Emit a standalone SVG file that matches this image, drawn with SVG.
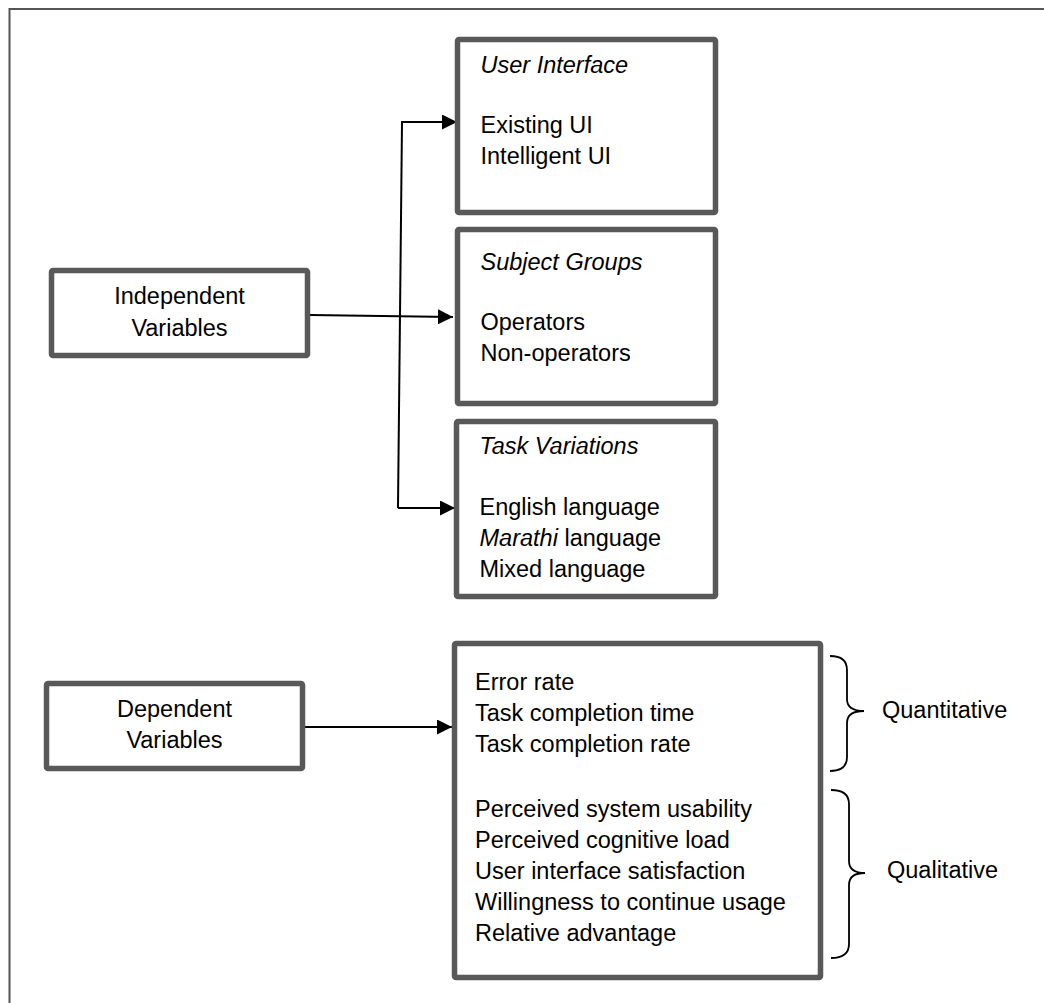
<svg xmlns="http://www.w3.org/2000/svg" width="1044" height="1003" viewBox="0 0 1044 1003">
  <defs>
    <style>
      .box { fill: #ffffff; stroke: #595959; stroke-width: 5.5; }
      .frame { fill: none; stroke: #555555; stroke-width: 2; }
      .wire { fill: none; stroke: #000000; stroke-width: 2; }
      .brace { fill: none; stroke: #000000; stroke-width: 1.8; }
      text { font-family: "Liberation Sans", Arial, sans-serif; font-size: 23.5px; fill: #000000; }
      .mid { text-anchor: middle; }
      .it { font-style: italic; }
    </style>
    <marker id="arrow" markerWidth="15" markerHeight="15" refX="15" refY="7.5" orient="auto" markerUnits="userSpaceOnUse">
      <path d="M0,0 L15,7.5 L0,15 Z" fill="#000000"/>
    </marker>
  </defs>

  <rect width="1044" height="1003" fill="#ffffff"/>

  <!-- page frame: top and left rules -->
  <path class="frame" d="M9.5,1003 L9.5,9 L1044,9"/>

  <!-- connectors -->
  <g id="connectors">
    <path class="wire" d="M402,122 L398,508"/>
    <path class="wire" d="M401,122 L457,122" marker-end="url(#arrow)"/>
    <path class="wire" d="M398,508 L455,508" marker-end="url(#arrow)"/>
    <path class="wire" d="M310,315 L453,317" marker-end="url(#arrow)"/>
    <path class="wire" d="M305,727 L452,727" marker-end="url(#arrow)"/>
  </g>

  <g id="independent-variables">
    <rect class="box" x="51.5" y="270.5" width="256" height="85" rx="1.5"/>
    <text class="mid" x="179.5" y="304">Independent</text>
    <text class="mid" x="179.5" y="336">Variables</text>
  </g>

  <g id="user-interface">
    <rect class="box" x="457.5" y="39.5" width="258" height="173" rx="1.5"/>
    <text class="it" x="480.5" y="73">User Interface</text>
    <text x="480.5" y="133">Existing UI</text>
    <text x="480.5" y="164">Intelligent UI</text>
  </g>

  <g id="subject-groups">
    <rect class="box" x="457.5" y="229.5" width="258" height="174" rx="1.5"/>
    <text class="it" x="480.5" y="270">Subject Groups</text>
    <text x="480.5" y="330">Operators</text>
    <text x="480.5" y="361">Non-operators</text>
  </g>

  <g id="task-variations">
    <rect class="box" x="456.5" y="421.5" width="259" height="175" rx="1.5"/>
    <text class="it" x="479.5" y="454">Task Variations</text>
    <text x="479.5" y="515">English language</text>
    <text x="479.5" y="546"><tspan class="it">Marathi</tspan> language</text>
    <text x="479.5" y="577">Mixed language</text>
  </g>

  <g id="dependent-variables">
    <rect class="box" x="46.5" y="683.5" width="256" height="85" rx="1.5"/>
    <text class="mid" x="174.5" y="717">Dependent</text>
    <text class="mid" x="174.5" y="748">Variables</text>
  </g>

  <g id="measures">
    <rect class="box" x="454.5" y="643.5" width="366" height="334" rx="1.5"/>
    <text x="475" y="690">Error rate</text>
    <text x="475" y="721">Task completion time</text>
    <text x="475" y="752">Task completion rate</text>
    <text x="475" y="817">Perceived system usability</text>
    <text x="475" y="848">Perceived cognitive load</text>
    <text x="475" y="879">User interface satisfaction</text>
    <text x="475" y="910">Willingness to continue usage</text>
    <text x="475" y="941">Relative advantage</text>
  </g>

  <g id="quantitative">
    <path class="brace" d="M830,656 Q847,656 847,670 L847,699 Q847,711 864,711 Q847,711 847,723 L847,757 Q847,771 830,771"/>
    <text x="882" y="718">Quantitative</text>
  </g>

  <g id="qualitative">
    <path class="brace" d="M831,790 Q849,790 849,804 L849,861 Q849,873 865,873 Q849,873 849,885 L849,944 Q849,958 831,958"/>
    <text x="887" y="878">Qualitative</text>
  </g>
</svg>
